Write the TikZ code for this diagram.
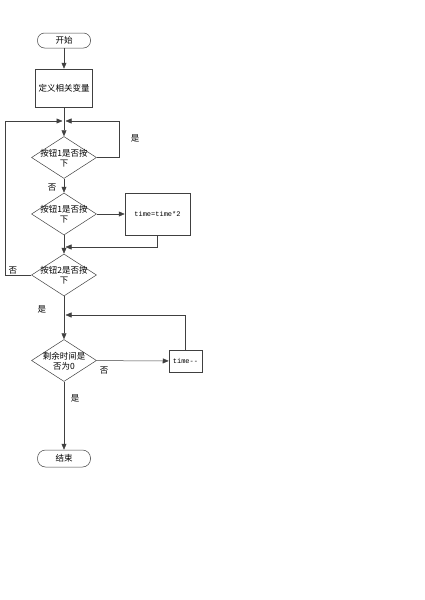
\documentclass[tikz,border=0pt]{standalone}
\usepackage{fontspec}
\setmainfont{Noto Sans CJK SC}
\newfontfamily\codefont{Liberation Mono}
\usetikzlibrary{shapes.geometric,arrows.meta}
\tikzset{
  base/.style={draw=black!75,line width=0.5pt,font=\fontsize{8.5}{10}\selectfont,inner sep=0pt},
  term/.style={base,rectangle,rounded corners=7pt,minimum width=53pt,minimum height=15pt},
  proc/.style={base,rectangle,minimum width=57pt,minimum height=38pt},
  decide/.style={base,diamond,minimum width=65pt,minimum height=42pt},
  code/.style={font=\codefont\fontsize{7}{8}\selectfont},
  flow/.style={draw=black!75,line width=0.5pt,-{Triangle[length=6pt,width=5pt]}},
  tag/.style={font=\fontsize{8.5}{10}\selectfont,inner sep=0pt}
}
\newcommand{\dtext}[2]{\smash{\makebox[0pt]{\raisebox{-3.5pt}{\begin{tabular}{@{}c@{}}#1\\#2\end{tabular}}}}}
\begin{document}
\begin{tikzpicture}[x=1pt,y=-1pt]
  % page frame
  \useasboundingbox (0,0) rectangle (425,600);
  % main column
  \node[term] (start) at (64,40.5) {开始};
  \node[proc] (vars) at (64,88) {定义相关变量};
  \node[decide] (btnA) at (64,157.5) {\dtext{按钮1是否按}{下}};
  \node[decide] (btnB) at (64,214) {\dtext{按钮1是否按}{下}};
  \node[decide] (btnC) at (64,275) {\dtext{按钮2是否按}{下}};
  \node[decide] (zero) at (64,360.5) {\dtext{剩余时间是}{否为0}};
  \node[term,minimum height=17pt,rounded corners=8pt] (stop) at (64,458.5) {结束};
  % side boxes
  \node[proc,code,minimum width=65pt,minimum height=42pt] (dbl) at (157.5,214) {time=time*2};
  \node[proc,code,minimum width=33pt,minimum height=22pt] (dec) at (185.5,361) {time-{}-};
  % joints of the loops
  \coordinate (topJ) at (64,121);
  \coordinate (midJ) at (64,247);
  \coordinate (lowJ) at (64,315);
  \coordinate (farL) at (5,121);
  \coordinate (farR) at (119,157.5);
  % connectors
  \draw[flow] (start) -- (vars);
  \draw[flow] (vars) -- (btnA);
  \draw[flow,shorten >=1.5pt] (btnA.east) -- (farR) |- (topJ);
  \draw[flow,shorten >=1.5pt] (btnC.west) -| (farL) -- (topJ);
  \draw[flow] (btnA) -- (btnB);
  \draw[flow] (btnB) -- (dbl);
  \draw[flow,shorten >=1.5pt] (dbl.south) |- (midJ);
  \draw[flow] (btnB) -- (btnC);
  \draw[flow] (btnC) -- (zero);
  \draw[flow] (zero) -- (dec);
  \draw[flow,shorten >=1.5pt] (dec.north) |- (lowJ);
  \draw[flow] (zero) -- (stop);
  % yes / no
  \node[tag] (yesA) at (135,138) {是};
  \node[tag] (noA) at (52,188) {否};
  \node[tag] (noC) at (13,271) {否};
  \node[tag] (yesC) at (42,309) {是};
  \node[tag] (noD) at (104,371) {否};
  \node[tag] (yesD) at (75,398) {是};
\end{tikzpicture}
\end{document}
